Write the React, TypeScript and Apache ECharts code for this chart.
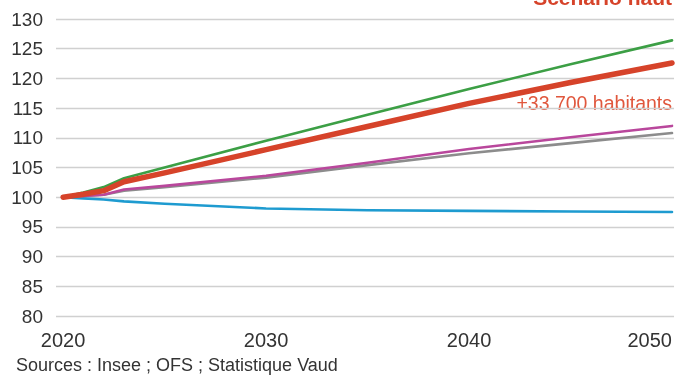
import React, { useEffect, useRef } from "react";
import * as echarts from "echarts";

const years = [2020, 2021, 2022, 2023, 2025, 2030, 2035, 2040, 2045, 2050];
const bas = [100, 99.8, 99.6, 99.3, 98.9, 98.1, 97.8, 97.7, 97.6, 97.5];
const grisSerie = [100, 100.2, 100.4, 101.1, 101.7, 103.3, 105.4, 107.4, 109.1, 110.8];
const magentaSerie = [100, 100.2, 100.4, 101.3, 101.9, 103.6, 105.8, 108.1, 110.1, 112.0];
const vertSerie = [100, 100.8, 101.7, 103.2, 105.0, 109.5, 113.9, 118.2, 122.4, 126.4];
const haut = [100, 100.5, 101.1, 102.6, 104.1, 108.0, 111.9, 115.8, 119.3, 122.6];
const xLabels = [2020, 2030, 2040, 2050];
const yTicks = { min: 80, max: 130, interval: 5 };
const titleText = "Scénario haut";
const annotation = "+33 700 habitants";
const sourceText = "Sources : Insee ; OFS ; Statistique Vaud";

const FONT = "'Liberation Sans', Arial, sans-serif";

function pairs(vals: number[]) {
  return years.map((y, i) => [y, vals[i]]);
}

export default function App() {
  const ref = useRef<HTMLDivElement>(null);
  useEffect(() => {
    if (!ref.current) return;
    const chart = echarts.init(ref.current, null, { renderer: "svg" });
    const mk = (name: string, data: number[], color: string, width: number, z: number) => ({
      name,
      type: "line",
      data: pairs(data),
      showSymbol: false,
      symbol: "none",
      smooth: false,
      z,
      lineStyle: { color, width, cap: "round", join: "round" },
      emphasis: { disabled: true },
    });
    chart.setOption({
      animation: false,
      textStyle: { fontFamily: FONT },
      grid: { left: 56, right: 0, top: 19, bottom: 60, containLabel: false },
      xAxis: {
        type: "value",
        min: 2019.65,
        max: 2050.1,
        axisLine: { show: false },
        axisTick: { show: false },
        splitLine: { show: false },
        axisLabel: {
          customValues: xLabels,
          color: "#333",
          fontSize: 20,
          fontFamily: FONT,
          margin: 14,
          alignMaxLabel: "right",
          formatter: (v: number) => String(v),
        },
      },
      yAxis: {
        type: "value",
        min: yTicks.min,
        max: yTicks.max,
        interval: yTicks.interval,
        axisLine: { show: false },
        axisTick: { show: false },
        splitLine: { lineStyle: { color: "#d0d0d0", width: 1.3 } },
        axisLabel: { color: "#333", fontSize: 19, fontFamily: FONT, margin: 13 },
      },
      series: [
        mk("bas", bas, "#1e9bd0", 2.6, 2),
        mk("gris", grisSerie, "#8c8c8c", 2.6, 3),
        mk("magenta", magentaSerie, "#b9479c", 2.6, 4),
        mk("vert", vertSerie, "#3c9f45", 2.6, 5),
        mk("haut", haut, "#d6432a", 5.5, 6),
      ],
      graphic: [
        {
          type: "text",
          right: 3,
          top: -13,
          style: {
            text: titleText,
            fill: "#d6432a",
            font: `bold 21px ${FONT}`,
          },
        },
        {
          type: "text",
          right: 3,
          top: 93,
          style: {
            text: annotation,
            fill: "#e0573d",
            font: `19.5px ${FONT}`,
          },
        },
        {
          type: "text",
          left: 16,
          top: 356,
          style: {
            text: sourceText,
            fill: "#333",
            font: `18px ${FONT}`,
          },
        },
      ],
    });
    return () => chart.dispose();
  }, []);
  return <div ref={ref} style={{ width: 675, height: 376, position: "fixed", left: 0, top: 0 }} />;
}
